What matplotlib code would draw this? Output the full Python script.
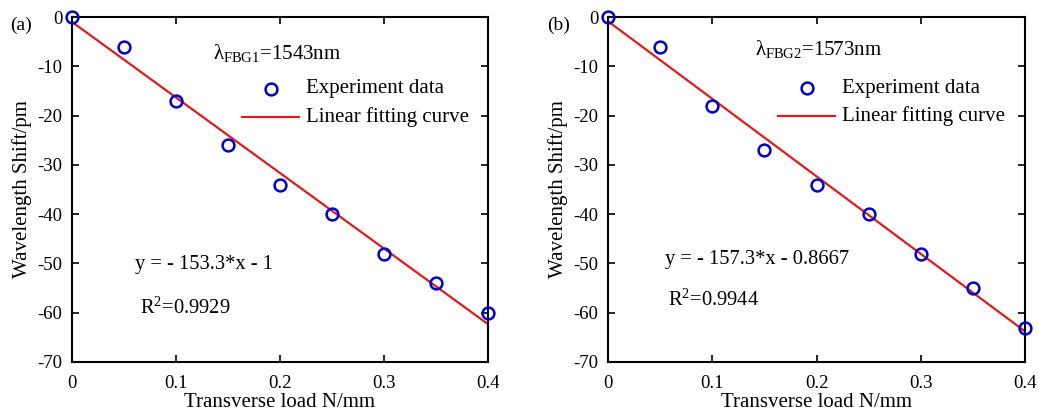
import matplotlib
matplotlib.use("Agg")
import matplotlib.pyplot as plt
import numpy as np

plt.rcParams['font.family'] = ['Liberation Serif', 'DejaVu Serif']
plt.rcParams['mathtext.fontset'] = 'custom'
plt.rcParams['mathtext.rm'] = 'Liberation Serif'
plt.rcParams['mathtext.it'] = 'Liberation Serif'
plt.rcParams['axes.unicode_minus'] = False

load = [0, 0.05, 0.10, 0.15, 0.20, 0.25, 0.30, 0.35, 0.40]
shift_a = [0, -6, -17, -26, -34, -40, -48, -54, -60]
shift_b = [0, -6, -18, -27, -34, -40, -48, -55, -63]
fit_a = (-153.3, -1.0)
fit_b = (-157.3, -0.8667)
xticks = [0, 0.1, 0.2, 0.3, 0.4]
xticklabels = ['0', '0.1', '0.2', '0.3', '0.4']
yticks = [0, -10, -20, -30, -40, -50, -60, -70]

fig = plt.figure(figsize=(10.39, 4.17), dpi=100)
W, H = 1039, 417
axes_px = [(72, 17, 488, 362), (608, 17, 1025, 362)]

panels = [
    dict(y=shift_a, fit=fit_a, lam=r'$\lambda_{\mathrm{FBG1}}$=1543nm', lampos=(0.136, -7.3),
         eq='y = - 153.3*x - 1', eqpos=(0.061, -50.3), r2=r'R$^2$=0.9929', r2pos=(0.065, -59.0),
         tag='(a)', tagx=10, leg_y=(89, 117), leg_mx=271),
    dict(y=shift_b, fit=fit_b, lam=r'$\lambda_{\mathrm{FBG2}}$=1573nm', lampos=(0.141, -6.5),
         eq='y = - 157.3*x - 0.8667', eqpos=(0.055, -49.3), r2=r'R$^2$=0.9944', r2pos=(0.058, -57.4),
         tag='(b)', tagx=547, leg_y=(88, 116), leg_mx=807),
]

for (x0, y0, x1, y1), p in zip(axes_px, panels):
    ax = fig.add_axes([x0 / W, 1 - y1 / H, (x1 - x0) / W, (y1 - y0) / H])
    xs = np.array([load[0], load[-1]])
    ax.plot(xs, p['fit'][0] * xs + p['fit'][1], color='#e31a1c', lw=1.6, zorder=2)
    ax.plot(load, p['y'], 'o', mfc='none', mec='#0000cc', mew=1.8, ms=8.5, zorder=3, clip_on=False)
    ax.set_xlim(0, 0.4)
    ax.set_ylim(-70, 0)
    ax.set_xticks(xticks)
    ax.set_xticklabels(xticklabels)
    ax.set_yticks(yticks)
    ax.tick_params(direction='in', top=True, right=True, labelsize=13.5, length=5, width=1.2)
    ax.tick_params(axis='x', pad=9)
    ax.tick_params(axis='y', pad=7)
    for s in ax.spines.values():
        s.set_linewidth(1.5)
    ax.set_xlabel('Transverse load N/mm', fontsize=15, labelpad=1)
    ax.set_ylabel('Wavelength Shift/pm', fontsize=15, labelpad=4)
    ax.text(*p['lampos'], p['lam'], fontsize=15, va='center')
    ax.text(*p['eqpos'], p['eq'], fontsize=14.8, va='center')
    ax.text(*p['r2pos'], p['r2'], fontsize=14.8, va='center')
    # legend drawn manually in pixel positions
    trans = fig.transFigure
    my, ly = p['leg_y']
    mx = p['leg_mx']
    fig.lines.append(matplotlib.lines.Line2D([mx / W], [1 - my / H], marker='o', mfc='none',
                                             mec='#0000cc', mew=1.8, ms=8.5, transform=trans))
    fig.lines.append(matplotlib.lines.Line2D([(mx - 29) / W, (mx + 28) / W], [1 - ly / H, 1 - ly / H],
                                             color='#e31a1c', lw=1.6, transform=trans))
    fig.text((mx + 35) / W, 1 - my / H, 'Experiment data', fontsize=15, va='center', ha='left')
    fig.text((mx + 35) / W, 1 - ly / H, 'Linear fitting curve', fontsize=15, va='center', ha='left')
    fig.text(p['tagx'] / W, 1 - 25 / H, p['tag'], fontsize=14, va='center', ha='left')

fig.savefig('out.png', dpi=100, facecolor='white')
